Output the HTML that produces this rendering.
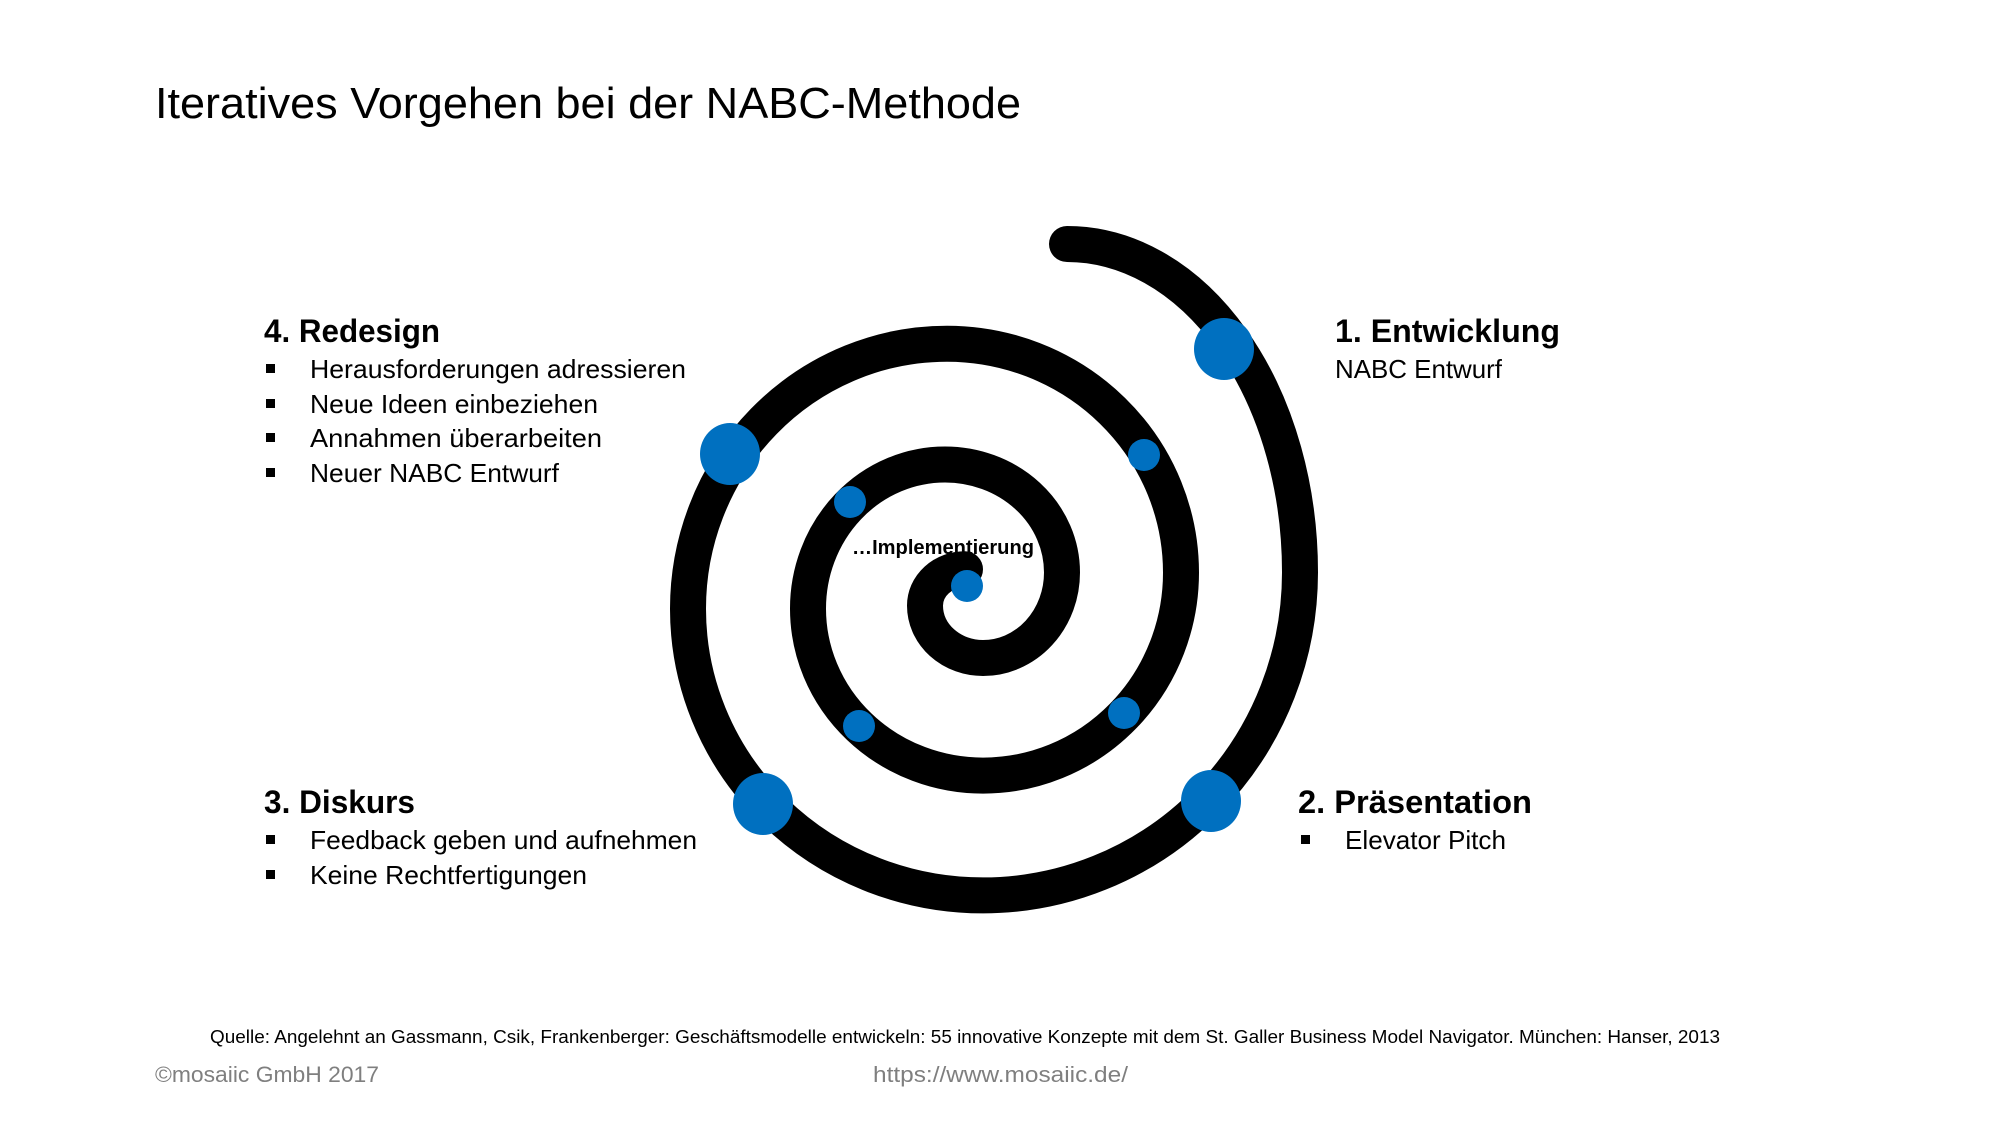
<!DOCTYPE html>
<html><head><meta charset="utf-8"><style>
html,body{margin:0;padding:0;background:#fff;}
svg{display:block;}
text{font-family:"Liberation Sans",sans-serif;}
</style></head><body>
<svg width="2002" height="1127" viewBox="0 0 2002 1127" xmlns="http://www.w3.org/2000/svg">
<rect width="2002" height="1127" fill="#fff"/>
<text x="155" y="118" font-size="44" textLength="866" lengthAdjust="spacingAndGlyphs" fill="#000">Iteratives Vorgehen bei der NABC-Methode</text>

<path d="M1067 244 A233 328 0 0 1 1300 572.5 A317 323 0 0 1 983 895.4 A295 286.5 0 0 1 688 608.9 A259 265 0 0 1 947 343.7 A234 229 0 0 1 1181 572.5 A198 203 0 0 1 983 775.6 A175 167 0 0 1 808 608.9 A137 144 0 0 1 945 464.5 A117 108 0 0 1 1062 572.5 A79 85.5 0 0 1 983 658 A58 52.4 0 0 1 925 605.6 A40 36.3 0 0 1 965 569.3" fill="none" stroke="#000" stroke-width="36" stroke-linecap="round"/>

<g fill="#0070C0">
<ellipse cx="1224" cy="349" rx="30" ry="31"/>
<ellipse cx="1211" cy="801" rx="30" ry="31"/>
<ellipse cx="763" cy="804" rx="30" ry="31"/>
<ellipse cx="730" cy="454" rx="30" ry="31"/>
<ellipse cx="1144" cy="455" rx="16" ry="16"/>
<ellipse cx="1124" cy="713" rx="16" ry="16"/>
<ellipse cx="859" cy="726" rx="16" ry="16"/>
<ellipse cx="850" cy="502" rx="16" ry="16"/>
<ellipse cx="967" cy="586" rx="16" ry="16"/>
</g>
<text x="852" y="554" font-size="20" font-weight="bold" textLength="182" lengthAdjust="spacingAndGlyphs">…Implementierung</text>

<g font-size="26" fill="#000">
<text x="264" y="342" font-size="32" font-weight="bold" textLength="176" lengthAdjust="spacingAndGlyphs">4. Redesign</text>
<rect x="266" y="364" width="9" height="9"/><text x="310" y="378" textLength="376" lengthAdjust="spacingAndGlyphs">Herausforderungen adressieren</text>
<rect x="266" y="399" width="9" height="9"/><text x="310" y="413" textLength="288" lengthAdjust="spacingAndGlyphs">Neue Ideen einbeziehen</text>
<rect x="266" y="433" width="9" height="9"/><text x="310" y="447" textLength="292" lengthAdjust="spacingAndGlyphs">Annahmen überarbeiten</text>
<rect x="266" y="468" width="9" height="9"/><text x="310" y="482" textLength="249" lengthAdjust="spacingAndGlyphs">Neuer NABC Entwurf</text>

<text x="1335" y="342" font-size="32" font-weight="bold" textLength="225" lengthAdjust="spacingAndGlyphs">1. Entwicklung</text>
<text x="1335" y="378" textLength="167" lengthAdjust="spacingAndGlyphs">NABC Entwurf</text>

<text x="264" y="813" font-size="32" font-weight="bold" textLength="151" lengthAdjust="spacingAndGlyphs">3. Diskurs</text>
<rect x="266" y="835" width="9" height="9"/><text x="310" y="849" textLength="387" lengthAdjust="spacingAndGlyphs">Feedback geben und aufnehmen</text>
<rect x="266" y="870" width="9" height="9"/><text x="310" y="884" textLength="277" lengthAdjust="spacingAndGlyphs">Keine Rechtfertigungen</text>

<text x="1298" y="813" font-size="32" font-weight="bold" textLength="234" lengthAdjust="spacingAndGlyphs">2. Präsentation</text>
<rect x="1301" y="835" width="9" height="9"/><text x="1345" y="849" textLength="161" lengthAdjust="spacingAndGlyphs">Elevator Pitch</text>
</g>

<text x="210" y="1043" font-size="18" textLength="1510" lengthAdjust="spacingAndGlyphs">Quelle: Angelehnt an Gassmann, Csik, Frankenberger: Geschäftsmodelle entwickeln: 55 innovative Konzepte mit dem St. Galler Business Model Navigator. München: Hanser, 2013</text>
<text x="155" y="1082" font-size="22" fill="#7f7f7f" textLength="224" lengthAdjust="spacingAndGlyphs">©mosaiic GmbH 2017</text>
<text x="873" y="1082" font-size="22" fill="#7f7f7f" textLength="255" lengthAdjust="spacingAndGlyphs">https://www.mosaiic.de/</text>
</svg>
</body></html>
